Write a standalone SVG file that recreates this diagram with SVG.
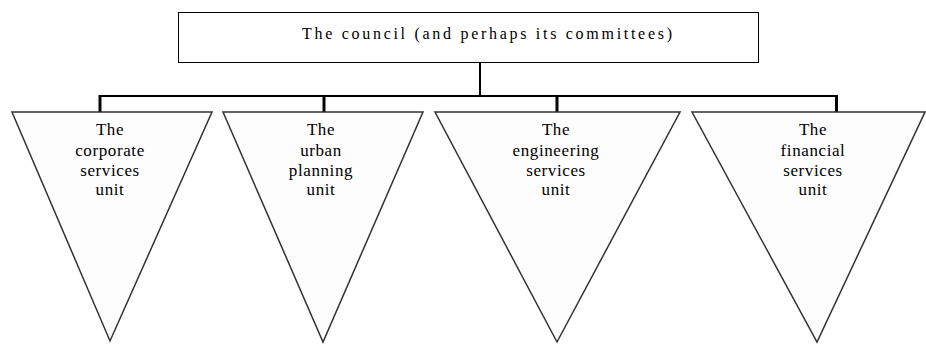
<svg xmlns="http://www.w3.org/2000/svg" width="926" height="345" viewBox="0 0 926 345">
<style>
text{font-family:"Liberation Serif","Times New Roman",serif;font-size:16px;fill:#000;text-anchor:middle}
.lbl{font-size:17px;letter-spacing:0.6px}
.tri{fill:#fdfdfd;stroke:#333;stroke-width:1.5}
.box{fill:#fff;stroke:#000;stroke-width:1}
.conn{stroke:#000;stroke-width:2;fill:none}
.drop{stroke:#000;stroke-width:3;fill:none}
</style>
<rect width="926" height="345" fill="#fff"/>
<g id="connectors">
<line class="conn" x1="480" y1="62" x2="480" y2="96"/>
<line class="conn" x1="99" y1="96" x2="838" y2="96"/>
<line class="drop" x1="100" y1="95" x2="100" y2="112"/>
<line class="drop" x1="324" y1="95" x2="324" y2="112"/>
<line class="drop" x1="557" y1="95" x2="557" y2="112"/>
<line class="drop" x1="836.5" y1="95" x2="836.5" y2="112"/>
</g>
<g id="council">
<rect class="box" x="178.5" y="12.5" width="580" height="50"/>
<text x="487" y="39" textLength="370">The council (and perhaps its committees)</text>
</g>
<g id="corporate">
<polygon class="tri" points="12,112 212,112 110,341"/>
<text class="lbl" x="110" y="135">The</text>
<text class="lbl" x="110" y="156">corporate</text>
<text class="lbl" x="110" y="176">services</text>
<text class="lbl" x="110" y="195">unit</text>
</g>
<g id="urban">
<polygon class="tri" points="223,112 423,112 323,342"/>
<text class="lbl" x="321" y="135">The</text>
<text class="lbl" x="321" y="156">urban</text>
<text class="lbl" x="321" y="176">planning</text>
<text class="lbl" x="321" y="195">unit</text>
</g>
<g id="engineering">
<polygon class="tri" points="435,112 680,112 557,342"/>
<text class="lbl" x="556" y="135">The</text>
<text class="lbl" x="556" y="156">engineering</text>
<text class="lbl" x="556" y="176">services</text>
<text class="lbl" x="556" y="195">unit</text>
</g>
<g id="financial">
<polygon class="tri" points="692,112 925,112 817,342"/>
<text class="lbl" x="813" y="135">The</text>
<text class="lbl" x="813" y="156">financial</text>
<text class="lbl" x="813" y="176">services</text>
<text class="lbl" x="813" y="195">unit</text>
</g>
</svg>
